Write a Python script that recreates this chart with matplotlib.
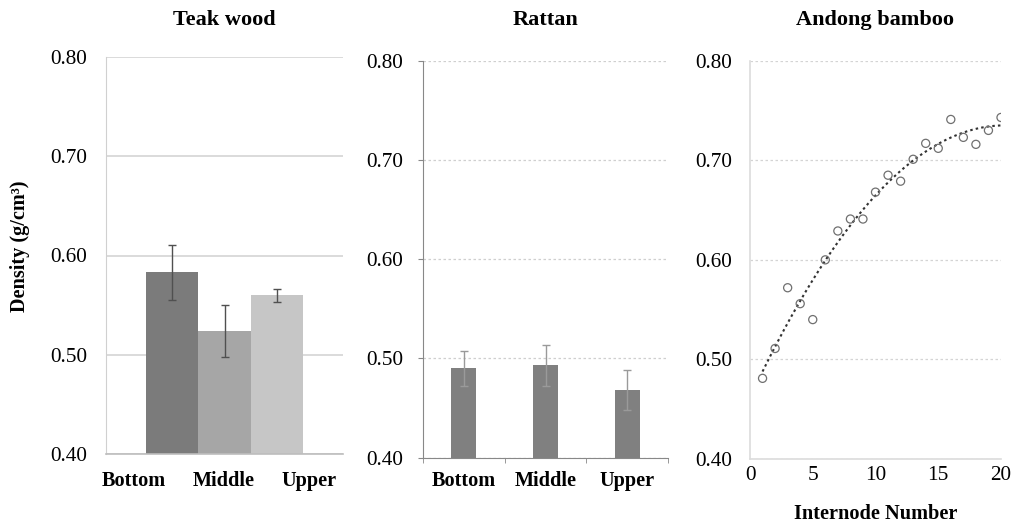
import numpy as np
import matplotlib
matplotlib.use("Agg")
import matplotlib.pyplot as plt

plt.rcParams['font.family'] = ['Liberation Serif', 'DejaVu Serif']

# ---------------- data ----------------
positions = ["Bottom", "Middle", "Upper"]
teak_density = [0.583, 0.524, 0.560]
teak_err = [0.028, 0.026, 0.0065]
rattan_density = [0.490, 0.493, 0.468]
rattan_err = [0.018, 0.021, 0.020]
internode = list(range(1, 21))
bamboo_density = [0.481, 0.511, 0.572, 0.556, 0.540, 0.600, 0.629, 0.641, 0.641, 0.668,
                  0.685, 0.679, 0.701, 0.717, 0.712, 0.741, 0.723, 0.716, 0.730, 0.743]
yticks = [0.40, 0.50, 0.60, 0.70, 0.80]
titles = ["Teak wood", "Rattan", "Andong bamboo"]

W, H = 1016, 527
fig = plt.figure(figsize=(W / 100, H / 100), dpi=100)

def box(l, r, t, b):
    return [l / W, 1 - b / H, (r - l) / W, (b - t) / H]

FT = 15.3   # tick labels
FB = 14.6   # bold labels
FTT = 16    # titles
PX = 0.72   # points per pixel

ax1 = fig.add_axes(box(106, 343, 57, 454))
ax2 = fig.add_axes(box(423, 668, 60.7, 457.7))
ax3 = fig.add_axes(box(750, 1001, 60.7, 459))

for ax in (ax1, ax2, ax3):
    ax.set_ylim(0.40, 0.80)
    ax.set_yticks(yticks)
    ax.set_yticklabels([f"{v:.2f}" for v in yticks], fontsize=FT)
    ax.spines['top'].set_visible(False)
    ax.spines['right'].set_visible(False)
    ax.set_axisbelow(True)

# ---------- Teak wood ----------
teak_colors = ["#7b7b7b", "#a6a6a6", "#c6c6c6"]
xs = np.arange(len(positions)) - 1
ax1.bar(xs, teak_density, width=1.0, color=teak_colors, zorder=2)
ax1.errorbar(xs, teak_density, yerr=teak_err, fmt='none', ecolor="#505050",
             elinewidth=1.0, capsize=3, capthick=1.0, zorder=3)
ax1.set_xlim(-2.257, 2.257)
ax1.set_xticks([])
ax1.yaxis.grid(True, color="#d4d4d4", linewidth=1.2, linestyle='-')
ax1.spines['left'].set_color("#d0d0d0")
ax1.spines['bottom'].set_color("#bdbdbd")
ax1.spines['bottom'].set_linewidth(1.2)
ax1.tick_params(axis='y', length=0, pad=19 * PX)
ax1.tick_params(axis='x', length=0)
for frac, lab in zip([0.118, 0.498, 0.857], positions):
    ax1.text(frac, -0.069, lab, transform=ax1.transAxes, ha='center', va='center',
             fontsize=FB, fontweight='bold')
fig.text(20 / W, 1 - 246 / H, "Density (g/cm³)", rotation=90, ha='center', va='center',
         fontsize=FB, fontweight='bold')

# ---------- Rattan ----------
xr = np.arange(len(positions))
ax2.bar(xr, rattan_density, width=0.31, color="#808080", zorder=2)
ax2.errorbar(xr, rattan_density, yerr=rattan_err, fmt='none', ecolor="#9a9a9a",
             elinewidth=1.0, capsize=3, capthick=1.0, zorder=3)
ax2.set_xlim(-0.5, len(positions) - 0.5)
ax2.set_xticks(xr)
ax2.set_xticklabels(positions, fontsize=FB, fontweight='bold')
ax2.set_xticks(np.arange(len(positions) + 1) - 0.5, minor=True)
ax2.tick_params(axis='x', which='major', length=0, pad=13 * PX)
ax2.tick_params(axis='x', which='minor', length=5 * PX, color="#888888", direction='out')
ax2.tick_params(axis='y', length=5 * PX, color="#888888", direction='out', pad=15 * PX)
ax2.yaxis.grid(True, color="#cfcfcf", linewidth=0.9, linestyle=(0, (2, 2)))
ax2.spines['left'].set_color("#888888")
ax2.spines['bottom'].set_color("#888888")

# ---------- Andong bamboo ----------
ax3.scatter(internode, bamboo_density, s=34, facecolors='none', edgecolors="#707070",
            linewidths=0.9, zorder=3)
coef = np.polyfit(internode, bamboo_density, 2)
xfit = np.linspace(min(internode), max(internode), 200)
ax3.plot(xfit, np.polyval(coef, xfit), color="#333333", linestyle=(0, (1.2, 1.5)),
         linewidth=1.5, zorder=2)
ax3.set_xlim(0, 20)
ax3.set_xticks([0, 5, 10, 15, 20])
ax3.set_xticklabels(["0", "5", "10", "15", "20"], fontsize=FT)
ax3.tick_params(axis='both', length=0)
ax3.tick_params(axis='x', pad=7 * PX)
ax3.tick_params(axis='y', pad=18 * PX)
ax3.yaxis.grid(True, color="#d4d4d4", linewidth=0.9, linestyle=(0, (2, 2)))
ax3.spines['left'].set_color("#dcdcdc")
ax3.spines['left'].set_linewidth(1.2)
ax3.spines['bottom'].set_color("#dcdcdc")
ax3.spines['bottom'].set_linewidth(1.2)
ax3.set_xlabel("Internode Number", fontsize=FB, fontweight='bold', labelpad=19 * PX)

for ax, t, p in zip((ax1, ax2, ax3), titles, (32 * PX, 35.7 * PX, 35.7 * PX)):
    ax.set_title(t, fontsize=FTT, fontweight='bold', pad=p)

fig.savefig("out.png", dpi=100, facecolor='white')
